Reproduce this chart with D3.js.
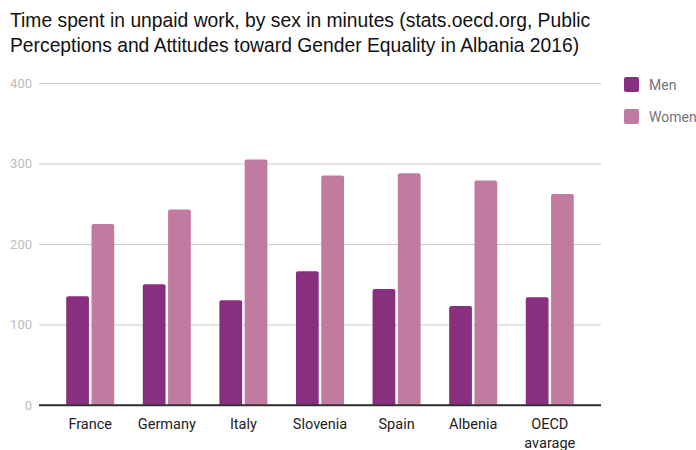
<!DOCTYPE html>
<html>
<head>
<meta charset="utf-8">
<script src="https://cdn.jsdelivr.net/npm/d3@7"></script>
<style>
  body { margin: 0; background: #fff; }
  svg { font-family: Roboto, sans-serif; }
</style>
</head>
<body>
<div id="chart"></div>
<script>
// data
const countries = ["France", "Germany", "Italy", "Slovenia", "Spain", "Albenia", "OECD avarage"]
const seriesNames = ["Men", "Women"]
const menValues = [135, 150, 130, 166, 144, 123, 134]
const womenValues = [225, 243, 305, 285, 288, 279, 262]
const yTicks = [0, 100, 200, 300, 400]
const titleLines = [
    "Time spent in unpaid work, by sex in minutes (stats.oecd.org, Public",
    "Perceptions and Attitudes toward Gender Equality in Albania 2016)"
]

const colors = {"Men": "#88307f", "Women": "#c27ba0"}

const width = 696, height = 450
const margin = {top: 83, right: 95, bottom: 45, left: 39}
const plot_width = width - margin.left - margin.right
const plot_height = height - margin.top - margin.bottom

const rows = countries.map(function(c, i) {
    return {country: c, Men: menValues[i], Women: womenValues[i]}
})

let svg = d3.select("#chart")
    .append("svg")
    .attr("width", width)
    .attr("height", height)

// title
svg.append("g")
    .selectAll("text")
    .data(titleLines)
    .enter()
    .append("text")
    .attr("x", 10)
    .attr("y", function(d, i) { return 27 + i * 25 })
    .style("font-family", "'Liberation Sans', Arial, sans-serif")
    .style("font-size", "19.3px")
    .style("fill", "#111")
    .text(function(d) { return d })

let g = svg.append("g")
    .attr("transform", `translate(${margin.left}, ${margin.top})`)

let y = d3.scaleLinear()
    .domain([0, 400])
    .range([plot_height, 0])

let x0 = d3.scaleBand()
    .domain(countries)
    .range([0, plot_width])
    .paddingInner(0.373)
    .paddingOuter(0.355)

let x1 = d3.scaleBand()
    .domain(seriesNames)
    .range([0, x0.bandwidth()])
    .paddingInner(0.1)

// gridlines + y labels
let yAxis = g.append("g")
    .call(d3.axisLeft(y).tickValues(yTicks).tickSize(-plot_width).tickPadding(7))
yAxis.select(".domain").remove()
yAxis.selectAll(".tick line")
    .attr("stroke", function(d) { return d === 0 ? "#333" : "#ccc" })
    .attr("stroke-width", function(d) { return d === 0 ? 1.3 : 1 })
yAxis.selectAll(".tick text")
    .style("font-family", "Roboto, sans-serif")
    .style("font-size", "13px")
    .style("fill", "#bdbdbd")

// bars
let groups = g.append("g")
    .selectAll("g")
    .data(rows)
    .enter()
    .append("g")
    .attr("transform", function(d) { return `translate(${x0(d.country)}, 0)` })

groups.selectAll("path")
    .data(function(d) { return seriesNames.map(function(s) { return {key: s, value: d[s]} }) })
    .enter()
    .append("path")
    .attr("fill", function(d) { return colors[d.key] })
    .attr("d", function(d) {
        let bx = x1(d.key), bw = x1.bandwidth()
        let top = y(d.value), bot = y(0), r = 2
        return `M${bx},${bot} V${top + r} Q${bx},${top} ${bx + r},${top} H${bx + bw - r} Q${bx + bw},${top} ${bx + bw},${top + r} V${bot} Z`
    })

// baseline on top of bars
g.append("line")
    .attr("x1", 0).attr("x2", plot_width)
    .attr("y1", y(0)).attr("y2", y(0))
    .attr("stroke", "#333")
    .attr("stroke-width", 1.3)

// x labels
let xLabels = g.append("g")
    .selectAll("text")
    .data(countries)
    .enter()
    .append("text")
    .attr("text-anchor", "middle")
    .attr("transform", function(d) { return `translate(${x0(d) + x0.bandwidth() / 2}, ${plot_height + 24})` })
    .style("font-size", "14.5px")
    .style("fill", "#222")

xLabels.selectAll("tspan")
    .data(function(d) { return d === "OECD avarage" ? ["OECD", "avarage"] : [d] })
    .enter()
    .append("tspan")
    .attr("x", 0)
    .attr("dy", function(d, i) { return i === 0 ? 0 : 19 })
    .text(function(d) { return d })

// legend
let legend = svg.append("g")
    .attr("transform", "translate(624, 77)")
    .selectAll("g")
    .data(seriesNames)
    .enter()
    .append("g")
    .attr("transform", function(d, i) { return `translate(0, ${i * 32})` })

legend.append("rect")
    .attr("width", 15)
    .attr("height", 15)
    .attr("rx", 2)
    .attr("fill", function(d) { return colors[d] })

legend.append("text")
    .attr("x", 25)
    .attr("y", 12.5)
    .style("font-size", "14px")
    .style("fill", "#757575")
    .text(function(d) { return d })
</script>
</body>
</html>
